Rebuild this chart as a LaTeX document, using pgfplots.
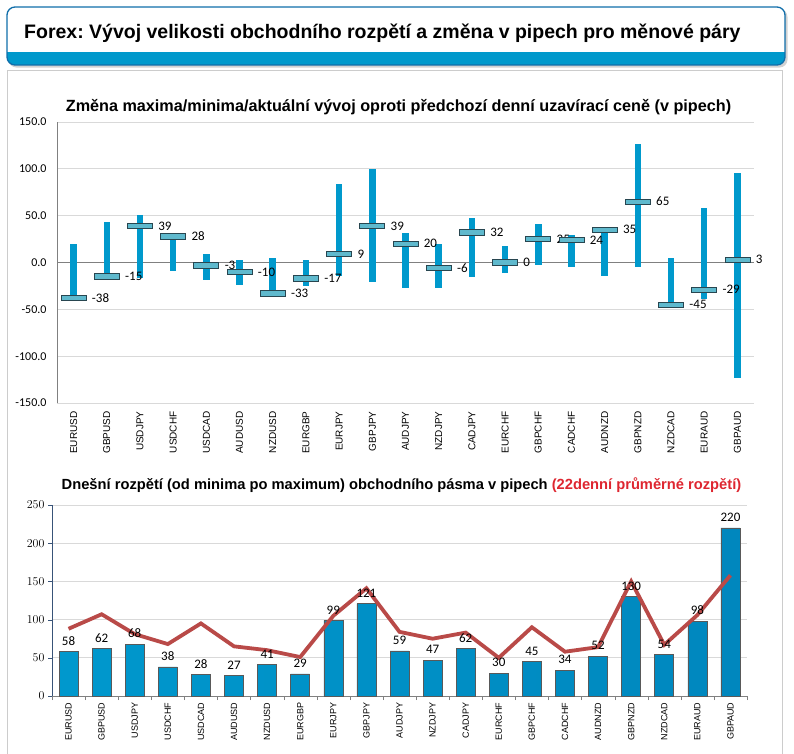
\documentclass[border=0pt]{standalone}
\usepackage{pgfplots}
\pgfplotsset{compat=1.18}
\usepackage{pgfplotstable}
\usepackage{fontspec}
\setmainfont{Liberation Sans}
\newfontfamily\calibri{Carlito}
\frenchspacing
\definecolor{rangeblue}{RGB}{0,153,204}
\definecolor{markfill}{RGB}{95,185,205}
\definecolor{markdraw}{RGB}{40,70,80}
\definecolor{avgred}{RGB}{185,74,72}
\definecolor{titlered}{RGB}{222,38,48}
\definecolor{gridgray}{RGB}{217,217,217}
\definecolor{headblue}{RGB}{0,153,204}
\definecolor{headborder}{RGB}{16,110,170}
\definecolor{axisnavy}{RGB}{56,83,120}
\definecolor{barL}{RGB}{0,152,205}
\definecolor{barM}{RGB}{60,200,240}
\definecolor{barR}{RGB}{0,135,190}

\pgfplotstableread{
x cur hi lo
0 -38 20 -40
1 -15 43 -19
2 39 51 -17
3 28 30 -9
4 -3 9 -19
5 -10 3 -24
6 -33 5 -36
7 -17 3 -25
8 9 84 -14
9 39 100 -21
10 20 32 -27
11 -6 20 -27
12 32 47 -16
13 0 18 -11
14 25 41 -3
15 24 29 -5
16 35 36 -14
17 65 126 -5
18 -45 5 -49
19 -29 58 -39
20 3 96 -123
}\changes

\pgfplotstableread{
x today avg
0 58 88
1 62 107
2 68 81
3 38 68
4 28 95
5 27 65
6 41 60
7 29 51
8 99 105
9 121 141
10 59 84
11 47 75
12 62 83
13 30 50
14 45 90
15 34 58
16 52 64
17 130 150
18 54 67
19 98 106
20 220 158
}\ranges

\pgfdeclareplotmark{curbar}{%
  \pgfpathrectangle{\pgfpoint{-12.5pt}{-2.7pt}}{\pgfpoint{25pt}{5.4pt}}%
  \pgfusepathqfillstroke}

\begin{document}
\begin{tikzpicture}
\useasboundingbox (0,0) rectangle (794pt,-753pt);
% header
\fill[gray!35, rounded corners=8pt] (8.5pt,-9pt) rectangle (787.5pt,-67.5pt);
\begin{scope}
\clip[rounded corners=8pt] (7pt,-7pt) rectangle (785pt,-65pt);
\fill[white] (7pt,-7pt) rectangle (785pt,-65pt);
\fill[headblue] (7pt,-52pt) rectangle (785pt,-65pt);
\end{scope}
\draw[headborder, line width=1.3pt, rounded corners=8pt] (7pt,-7pt) rectangle (785pt,-65pt);
\node[anchor=base west, font=\fontsize{19.5}{22}\selectfont\bfseries, inner sep=0pt] at (24pt,-38pt) {Forex: Vývoj velikosti obchodního rozpětí a změna v pipech pro měnové páry};
% panel
\draw[gray!40, line width=1pt] (7pt,-760pt) -- (7pt,-70pt) -- (782pt,-70pt) -- (782pt,-760pt);

% ---------- top chart ----------
\begin{axis}[
  at={(57pt,-403pt)}, anchor=south west,
  scale only axis, width=697pt, height=281pt,
  xmin=-0.5, xmax=20.5, ymin=-150, ymax=150,
  axis lines*=left, axis line style={-},
  x axis line style={draw=gridgray},
  y axis line style={draw=gray},
  ymajorgrids, grid style={gridgray, line width=0.8pt},
  ytick={-150,-100,...,150},
  extra y ticks={0}, extra y tick labels={},
  extra y tick style={grid style={gray, line width=0.8pt}},
  major tick length=0pt,
  yticklabel style={font=\calibri\fontsize{12}{14}\selectfont, /pgf/number format/.cd, fixed, fixed zerofill, precision=1, assume math mode=true},
  yticklabel shift=7pt,
  xtick={0,...,20},
  xticklabels={EURUSD,GBPUSD,USDJPY,USDCHF,USDCAD,AUDUSD,NZDUSD,EURGBP,EURJPY,GBPJPY,AUDJPY,NZDJPY,CADJPY,EURCHF,GBPCHF,CADCHF,AUDNZD,GBPNZD,NZDCAD,EURAUD,GBPAUD},
  xticklabel style={rotate=90, anchor=east, font=\fontsize{10}{12}\selectfont},
  xticklabel shift=5pt,
  title={Změna maxima/minima/aktuální vývoj oproti předchozí denní uzavírací ceně (v pipech)},
  title style={font=\fontsize{16.2}{18}\selectfont\bfseries, at={(0.5,1)}, anchor=base, yshift=5pt, xshift=-7pt, inner sep=0pt},
  clip=false,
]
\addplot [draw=none, mark=none, forget plot,
  error bars/.cd, y dir=both, y explicit, error mark=none,
  error bar style={line width=6.5pt, rangeblue}]
  table [x=x, y=cur, y error plus expr=\thisrow{hi}-\thisrow{cur}, y error minus expr=\thisrow{cur}-\thisrow{lo}] {\changes};
\addplot [only marks, mark=curbar, mark options={fill=markfill, draw=markdraw, line width=0.8pt},
  nodes near coords, point meta=explicit symbolic,
  nodes near coords style={anchor=west, xshift=17pt, font=\calibri\fontsize{13}{15}\selectfont, inner sep=1pt}]
  table [x=x, y=cur, meta=cur] {\changes};
\end{axis}

% ---------- bottom chart ----------
\begin{axis}[
  at={(52pt,-696pt)}, anchor=south west,
  scale only axis, width=695pt, height=191pt,
  xmin=-0.5, xmax=20.5, ymin=0, ymax=250,
  axis lines*=left, axis line style={-},
  x axis line style={draw=gray},
  y axis line style={draw=axisnavy, line width=0.8pt},
  ymajorgrids, grid style={gridgray, line width=0.8pt},
  ytick={0,50,...,250},
  tick align=outside, major tick length=4pt,
  ytick style={draw=axisnavy},
  xtick style={draw=gray},
  yticklabel style={font=\calibri\fontsize{13}{15}\selectfont},
  xtick={-0.5,0.5,...,20.5}, xticklabels={},
  extra x ticks={0,...,20},
  extra x tick labels={EURUSD,GBPUSD,USDJPY,USDCHF,USDCAD,AUDUSD,NZDUSD,EURGBP,EURJPY,GBPJPY,AUDJPY,NZDJPY,CADJPY,EURCHF,GBPCHF,CADCHF,AUDNZD,GBPNZD,NZDCAD,EURAUD,GBPAUD},
  extra x tick style={major tick length=0pt, xticklabel style={rotate=90, anchor=east, font=\fontsize{9}{11}\selectfont}},
  xticklabel shift=3pt,
  title={Dnešní rozpětí (od minima po maximum) obchodního pásma v pipech \textcolor{titlered}{(22denní průměrné rozpětí)}},
  title style={font=\fontsize{14.7}{17}\selectfont\bfseries, at={(0.5,1)}, anchor=base, yshift=10pt, xshift=2pt, inner sep=0pt},
  clip=false,
]
\addplot [ybar, bar width=19pt, draw=black!65, line width=0.6pt,
  /tikz/shading=axis, left color=barL, middle color=barM, right color=barR,
  nodes near coords, point meta=explicit symbolic,
  nodes near coords style={anchor=south, yshift=5pt, font=\calibri\fontsize{13}{15}\selectfont, black, inner sep=1pt}]
  table [x=x, y=today, meta=today] {\ranges};
\addplot [avgred, line width=3.8pt, mark=none] table [x=x, y=avg] {\ranges};
\end{axis}
\end{tikzpicture}
\end{document}
